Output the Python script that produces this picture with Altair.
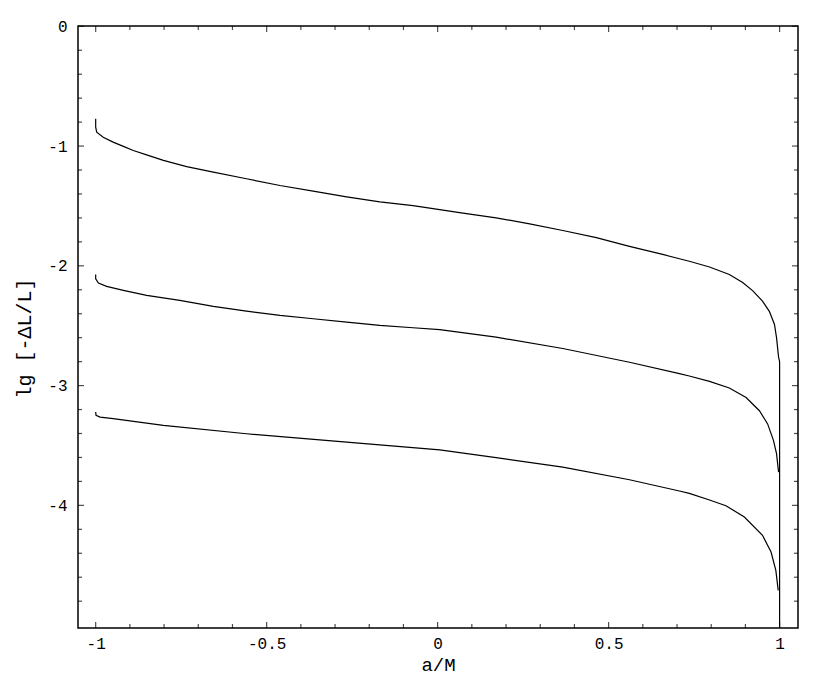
import altair as alt
import pandas as pd

# ---- data (a/M, lg of -dL/L) ----
c1_a = [-1.0, -1.0, -0.997, -0.978, -0.949, -0.919, -0.890, -0.851, -0.802, -0.734,
        -0.656, -0.559, -0.461, -0.364, -0.266, -0.169, -0.072, 0.006, 0.074, 0.171,
        0.269, 0.366, 0.464, 0.561, 0.658, 0.707, 0.736, 0.795, 0.853, 0.892,
        0.921, 0.950, 0.970, 0.985, 0.991, 0.997, 1.0, 1.0]
c1_lg = [-0.772, -0.842, -0.884, -0.926, -0.967, -1.003, -1.037, -1.073, -1.120, -1.172,
         -1.218, -1.273, -1.329, -1.376, -1.424, -1.466, -1.498, -1.530, -1.560, -1.599,
         -1.649, -1.705, -1.765, -1.838, -1.905, -1.941, -1.962, -2.010, -2.072, -2.140,
         -2.207, -2.295, -2.380, -2.490, -2.600, -2.762, -2.800, -5.400]

c2_a = [-1.0, -1.0, -0.992, -0.968, -0.919, -0.851, -0.754, -0.656, -0.559, -0.461,
        -0.364, -0.266, -0.169, -0.072, 0.006, 0.171, 0.366, 0.561, 0.707, 0.736,
        0.795, 0.853, 0.902, 0.941, 0.965, 0.982, 0.991, 0.997]
c2_lg = [-2.072, -2.108, -2.144, -2.172, -2.205, -2.247, -2.289, -2.339, -2.378, -2.414,
         -2.442, -2.470, -2.497, -2.517, -2.532, -2.596, -2.690, -2.805, -2.900, -2.920,
         -2.965, -3.020, -3.100, -3.210, -3.320, -3.457, -3.568, -3.722]

c3_a = [-1.0, -0.999, -0.987, -0.949, -0.802, -0.559, -0.266, 0.006, 0.171, 0.366,
        0.561, 0.707, 0.736, 0.795, 0.843, 0.897, 0.950, 0.975, 0.989, 0.996]
c3_lg = [-3.221, -3.249, -3.263, -3.276, -3.332, -3.402, -3.472, -3.536, -3.602, -3.680,
         -3.786, -3.880, -3.900, -3.955, -4.003, -4.097, -4.250, -4.390, -4.543, -4.710]

x_major = [-1, -0.5, 0, 0.5, 1]
x_minor = [-0.9, -0.8, -0.7, -0.6, -0.4, -0.3, -0.2, -0.1,
           0.1, 0.2, 0.3, 0.4, 0.6, 0.7, 0.8, 0.9]
y_major = [0, -1, -2, -3, -4]
y_minor = [-0.2, -0.4, -0.6, -0.8, -1.2, -1.4, -1.6, -1.8, -2.2, -2.4, -2.6, -2.8,
           -3.2, -3.4, -3.6, -3.8, -4.2, -4.4, -4.6, -4.8]

X_DOMAIN = [-1.0517, 1.0538]
Y_DOMAIN = [-5.024, 0.0025]

FONT = "Liberation Mono"

rows = []
for name, xs_, ys_ in (("c1", c1_a, c1_lg), ("c2", c2_a, c2_lg), ("c3", c3_a, c3_lg)):
    for i, (a, v) in enumerate(zip(xs_, ys_)):
        rows.append({"curve": name, "i": i, "a": a, "lg": v})
df = pd.DataFrame(rows)

xs = alt.Scale(domain=X_DOMAIN, nice=False, zero=False)
ys = alt.Scale(domain=Y_DOMAIN, nice=False, zero=False)

lines = alt.Chart(df).mark_line(color="black", strokeWidth=1.2, clip=True).encode(
    x=alt.X("a:Q", scale=xs, title="a/M",
            axis=alt.Axis(values=x_major, labelExpr="'' + datum.value", domain=False,
                          ticks=False, tickSize=0, grid=False, labelPadding=7,
                          labelFont=FONT, labelFontSize=16, labelColor="black",
                          titleFont=FONT, titleFontSize=19, titleFontWeight="normal",
                          titleColor="black", titleX=360, titleY=42,
                          titleBaseline="alphabetic", titleAlign="center")),
    y=alt.Y("lg:Q", scale=ys, title="lg [-ΔL/L]",
            axis=alt.Axis(values=y_major, labelExpr="'' + datum.value", domain=False,
                          ticks=False, tickSize=0, grid=False, labelPadding=11,
                          labelFont=FONT, labelFontSize=16, labelColor="black",
                          titleFont=FONT, titleFontSize=20, titleFontWeight="normal",
                          titleColor="black", titleX=-48, titleY=312, titleAngle=-90,
                          titleBaseline="alphabetic", titleAlign="center")),
    detail="curve:N",
    order="i:Q",
)


def xticks(values, length, at_bottom):
    d = pd.DataFrame({"v": values})
    yv = Y_DOMAIN[0] if at_bottom else Y_DOMAIN[1]
    off = -length / 2 if at_bottom else length / 2
    return alt.Chart(d).mark_tick(orient="vertical", size=length, thickness=1.2,
                                  color="black", yOffset=off).encode(
        x=alt.X("v:Q", scale=xs, axis=None),
        y=alt.YDatum(yv, type="quantitative", scale=ys, axis=None),
    )


def yticks(values, length, at_left):
    d = pd.DataFrame({"v": values})
    xv = X_DOMAIN[0] if at_left else X_DOMAIN[1]
    off = length / 2 if at_left else -length / 2
    return alt.Chart(d).mark_tick(orient="horizontal", size=length, thickness=1.2,
                                  color="black", xOffset=off).encode(
        y=alt.Y("v:Q", scale=ys, axis=None),
        x=alt.XDatum(xv, type="quantitative", scale=xs, axis=None),
    )


tick_layers = [
    xticks(x_major, 6, True), xticks(x_minor, 4, True),
    xticks(x_major, 6, False), xticks(x_minor, 4, False),
    yticks(y_major, 6, True), yticks(y_minor, 4, True),
    yticks(y_major, 6, False), yticks(y_minor, 4, False),
]

chart = alt.layer(lines, *tick_layers).resolve_axis(
    x="independent", y="independent"
).properties(
    width=720, height=602,
    autosize=alt.AutoSizeParams(type="none"),
    padding={"left": 70, "top": 18, "right": 10, "bottom": 50},
    background="white",
).configure_view(stroke="black", strokeWidth=1.5)

chart.save("out.html", embed_options={"renderer": "svg", "actions": False})
